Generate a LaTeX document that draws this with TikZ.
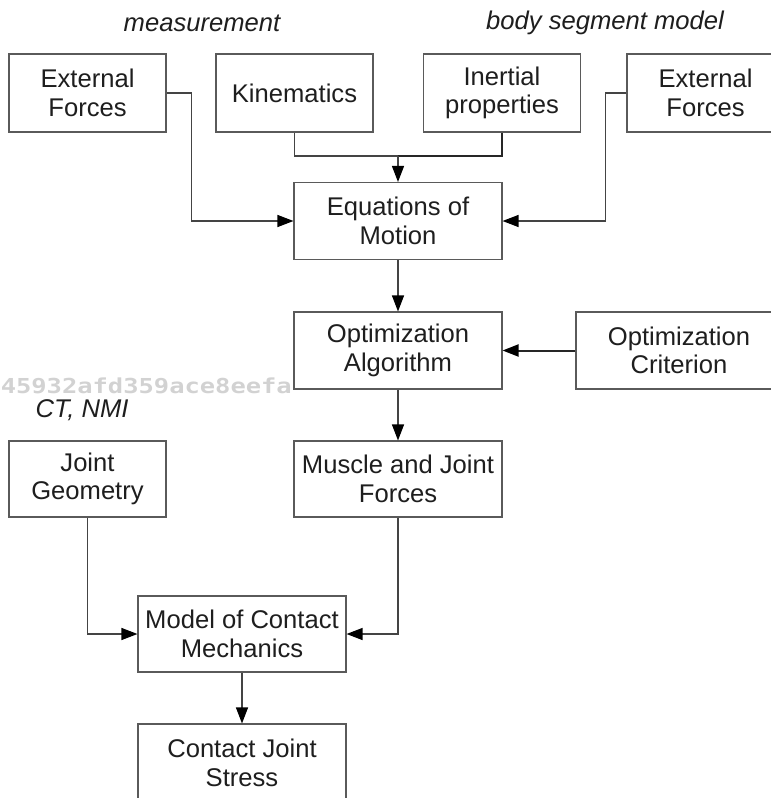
\documentclass[tikz,border=0pt]{standalone}
\usepackage{fontspec}
\setmainfont{Liberation Sans}
\newfontfamily\wmfont{DejaVu Sans Mono}
\usetikzlibrary{arrows.meta}
\definecolor{boxline}{HTML}{5A5A5A}
\definecolor{txt}{HTML}{1E1E1E}
\definecolor{conn}{HTML}{444444}
\tikzset{
  box/.style={draw=boxline, line width=1.1pt, text=txt, align=center, inner sep=0pt,
    minimum width=157pt, minimum height=78pt,
    font=\fontsize{25.6}{28.5}\selectfont},
  wbox/.style={box, minimum width=208pt, minimum height=77pt},
  lab/.style={text=txt, font=\fontsize{25.6}{28.5}\selectfont\itshape},
  conline/.style={draw=conn, line width=1.2pt},
  arr/.style={conline, -{Triangle[length=16pt,width=12pt,color=black]}},
  heavy/.style={line width=2pt, draw=black!85},
}
\begin{document}
\begin{tikzpicture}[x=1pt,y=-1pt]
\clip (0,0) rectangle (771,798);
\fill[white] (0,0) rectangle (771,798);
% watermark
\node[anchor=base east, inner sep=0pt, text=gray!35, font=\fontsize{20.6}{22}\wmfont\bfseries] (wm) at (292,393) {\scalebox{1.235}[1]{45932afd359ace8eefa}};
% labels
\node[lab] (lmeas) at (202,23) {measurement};
\node[lab] (lbody) at (605,23) {body segment model};
\node[lab] (lct) at (82,410) {CT, NMI};
% boxes
\node[box] (extL) at (87.5,93) {External\\Forces};
\node[box] (kin) at (294.5,93) {Kinematics};
\node[box] (inert) at (502,93) {Inertial\\properties};
\node[box] (extR) at (705.5,93) {External\\Forces};
\node[wbox] (eom) at (398,221) {Equations of\\Motion};
\node[wbox] (optA) at (398,350.5) {Optimization\\Algorithm};
\node[wbox, minimum width=206pt] (optC) at (679,350.5) {Optimization\\Criterion};
\node[box, minimum height=76pt] (jg) at (87.5,479) {Joint\\Geometry};
\node[wbox, minimum height=76pt] (mjf) at (398,479) {Muscle and Joint\\Forces};
\node[wbox, minimum height=76pt] (mcm) at (242,634) {Model of Contact\\Mechanics};
\node[wbox, minimum height=78pt] (cjs) at (242,763) {Contact Joint\\Stress};
% connectors
\coordinate (merge) at (398,156);
\draw[conline] (kin.south) |- (merge);
\draw[conline, heavy] (inert.south) |- (merge);
\draw[arr] (merge) -- (eom.north);
\draw[arr] (extL.east) -- ++(25,0) |- (eom.west);
\draw[arr] (extR.west) -- ++(-21,0) |- (eom.east);
\draw[arr] (eom.south) -- (optA.north);
\draw[arr, heavy] (optC.west) -- (optA.east);
\draw[arr] (optA.south) -- (mjf.north);
\draw[arr] (jg.south) |- (mcm.west);
\draw[arr] (mjf.south) |- (mcm.east);
\draw[arr] (mcm.south) -- (cjs.north);
\end{tikzpicture}
\end{document}
